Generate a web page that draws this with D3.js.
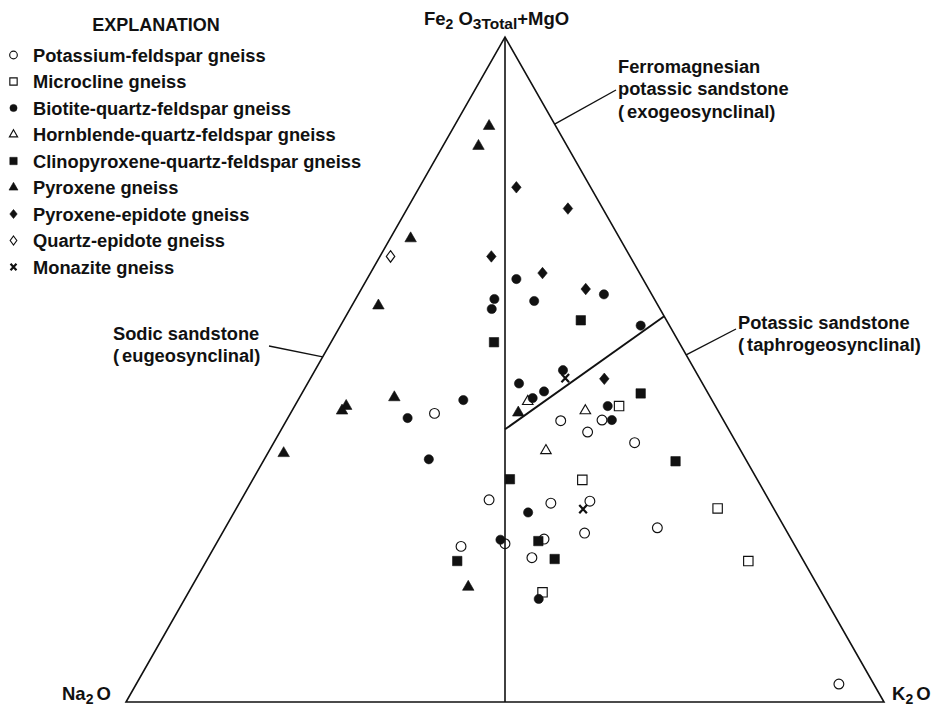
<!DOCTYPE html>
<html><head><meta charset="utf-8">
<script src="https://cdn.jsdelivr.net/npm/d3@7"></script>
<style>
body{margin:0;background:#fff;}
text{font-family:"Liberation Sans",Arial,Helvetica,sans-serif;font-weight:bold;fill:#111;}
</style></head><body>
<svg id="chart" width="937" height="708"></svg>
<script>
// Each point: [Na2O, K2O, Fe2O3Total+MgO] in percent
const potassiumFeldspar = [[37.6,19.0,43.4],[21.5,36.2,42.3],[16.0,41.6,42.4],[18.8,40.6,40.6],[13.4,47.6,39.0],
  [36.9,32.7,30.4],[29.0,41.1,29.9],[23.7,46.1,30.2],[16.8,57.0,26.2],[26.8,47.8,25.4],[32.6,42.9,24.5],
  [38.1,38.1,23.8],[44.1,32.5,23.4],[35.6,42.7,21.7],[4.6,92.7,2.7]];
const microcline = [[12.7,42.8,44.5],[23.1,43.5,33.4],[7.4,63.5,29.1],[7.3,71.5,21.2],[36.8,46.7,16.5]];
const biotiteQF = [[16.7,19.7,63.6],[6.3,32.4,61.3],[21.1,18.3,60.6],[22.2,18.7,59.1],[16.0,23.7,60.3],
  [3.8,39.6,56.6],[24.2,27.9,47.9],[17.4,32.7,49.9],[21.5,31.8,46.7],[23.5,30.8,45.7],[14.2,41.3,44.5],
  [14.7,42.9,42.4],[32.8,21.8,45.4],[41.5,15.8,42.7],[41.8,21.7,36.5],[32.7,38.8,28.5],[38.4,37.2,24.4],
  [37.8,46.7,15.5]];
const hornblendeQF = [[24.4,30.4,45.2],[17.5,38.7,43.8],[25.7,36.5,37.8]];
const clinopyroxeneQF = [[11.3,31.3,57.4],[24.4,21.5,54.1],[8.9,44.7,46.4],[9.4,54.4,36.2],[32.6,33.9,33.5],
  [33.5,42.3,24.2],[45.7,33.1,21.2],[32.7,45.8,21.5]];
const pyroxene = [[8.8,4.6,86.6],[11.7,4.7,83.6],[27.6,2.7,69.7],[36.9,3.5,59.6],[41.7,12.5,45.8],
  [48.7,6.8,44.5],[49.6,6.6,43.8],[60.5,2.1,37.4],[26.5,30.0,43.5],[46.2,36.5,17.3]];
const pyroxeneEpidote = [[9.8,12.8,77.4],[4.6,21.2,74.2],[18.3,14.7,67.0],[12.8,22.7,64.5],[8.3,29.6,62.1],[12.6,38.8,48.6]];
const quartzEpidote = [[31.6,1.4,67.0]];
const monazite = [[17.7,33.6,48.7],[25.2,45.8,29.0]];

const seriesNames = ["Potassium-feldspar gneiss","Microcline gneiss","Biotite-quartz-feldspar gneiss",
  "Hornblende-quartz-feldspar gneiss","Clinopyroxene-quartz-feldspar gneiss","Pyroxene gneiss",
  "Pyroxene-epidote gneiss","Quartz-epidote gneiss","Monazite gneiss"];
const seriesData = [potassiumFeldspar,microcline,biotiteQF,hornblendeQF,clinopyroxeneQF,pyroxene,pyroxeneEpidote,quartzEpidote,monazite];

// field boundary (Na2O, K2O, FeMg)
const boundaryLine = [[29.5,29.5,41.0],[0,42.0,58.0]];

const ink = "#111";
const svg = d3.select("#chart");
const x = d3.scaleLinear().domain([0,100]).range([126,884]);
const y = d3.scaleLinear().domain([0,100]).range([702,37]);
const px = d => x(d[1] + d[2]/2), py = d => y(d[2]);
const line = d3.line().x(px).y(py);

// triangle
svg.append("path").attr("d", line([[100,0,0],[0,100,0],[0,0,100]]) + "Z")
  .attr("fill","none").attr("stroke",ink).attr("stroke-width",1.6).attr("stroke-linejoin","miter");
svg.append("path").attr("d", line([[50,50,0],[0,0,100]])).attr("stroke",ink).attr("stroke-width",1.6);
svg.append("path").attr("d", line(boundaryLine)).attr("stroke",ink).attr("stroke-width",1.9);

// symbols
const diamond = (w,h) => ({draw(c){c.moveTo(0,-h/2);c.lineTo(w/2,0);c.lineTo(0,h/2);c.lineTo(-w/2,0);c.closePath();}});
const cross = s => ({draw(c){c.moveTo(-s,-s*1.1);c.lineTo(s,s*1.1);c.moveTo(s,-s*1.1);c.lineTo(-s,s*1.1);}});
function symbolSpec(i, k){ // k = scale
  switch(i){
    case 0: return {type:d3.symbolCircle, size:Math.PI*Math.pow(4.9*k,2), filled:false};
    case 1: return {type:d3.symbolSquare, size:Math.pow(9.4*k,2), filled:false};
    case 2: return {type:d3.symbolCircle, size:Math.PI*Math.pow(4.6*k,2), filled:true};
    case 3: return {type:d3.symbolTriangle, size:0.433*Math.pow(10.5*k,2), filled:false};
    case 4: return {type:d3.symbolSquare, size:Math.pow(9.4*k,2), filled:true};
    case 5: return {type:d3.symbolTriangle, size:0.433*Math.pow(11.5*k,2), filled:true};
    case 6: return {type:diamond(9.5*k,11.5*k), size:1, filled:true};
    case 7: return {type:diamond(8.5*k,11.5*k), size:1, filled:false};
    case 8: return {type:cross(3.8*k), size:1, filled:false, cross:true};
  }
}
function drawSym(g, spec){
  g.attr("d", d3.symbol().type(spec.type).size(spec.size)())
   .attr("fill", spec.filled ? ink : "none")
   .attr("stroke", ink)
   .attr("stroke-width", spec.cross ? 2.2 : (spec.filled ? 0.6 : 1.15));
}

const pts = svg.append("g");
seriesData.forEach((data,i)=>{
  const spec = symbolSpec(i,1);
  pts.selectAll(null).data(data).enter().append("path")
    .attr("transform", d=>`translate(${px(d)},${py(d)})`)
    .call(drawSym, spec);
});

// legend
svg.append("text").attr("x",156).attr("y",31).attr("text-anchor","middle")
  .style("font-size","18px").text("EXPLANATION");
const leg = svg.append("g");
seriesNames.forEach((n,i)=>{
  const cy = 55 + i*26.5;
  const spec = symbolSpec(i,0.78);
  leg.append("path").attr("transform",`translate(13.5,${cy})`).call(drawSym, spec);
  leg.append("text").attr("x",33).attr("y",cy+6.5).style("font-size","18.3px").text(n);
});

// vertex labels
const apexLabel = svg.append("text").attr("x",424).attr("y",25).style("font-size","18.5px");
apexLabel.append("tspan").text("Fe");
apexLabel.append("tspan").attr("dy",4).style("font-size","14px").text("2");
apexLabel.append("tspan").attr("dx",5).attr("dy",-4).text("O");
apexLabel.append("tspan").attr("dy",4).style("font-size","15.5px").text("3Total");
apexLabel.append("tspan").attr("dy",-4).text("+MgO");

function oxide(xp, a, b){
  const t = svg.append("text").attr("x",xp).attr("y",700).style("font-size","18.5px");
  t.append("tspan").text(a);
  t.append("tspan").attr("dy",4).style("font-size","14px").text("2");
  t.append("tspan").attr("dx",3).attr("dy",-4).text(b);
}
oxide(62,"Na","O");
oxide(892,"K","O");

// field labels with leaders
function label(lines, xp, y0){
  const t = svg.append("text").attr("x",xp).attr("y",y0).style("font-size","18.3px");
  lines.forEach((l,i)=>{
    const ts = t.append("tspan").attr("x",xp).attr("dy", i===0?0:22.3);
    if(l[0]==="("){ ts.text("("); t.append("tspan").attr("dx",3).text(l.slice(1)); }
    else ts.text(l);
  });
}
function leader(edgePt, x2, y2){
  svg.append("line").attr("x1",px(edgePt)).attr("y1",py(edgePt)).attr("x2",x2).attr("y2",y2)
    .attr("stroke",ink).attr("stroke-width",1.4);
}
label(["Ferromagnesian","potassic sandstone","(exogeosynclinal)"], 618, 73);
leader([0,13.1,86.9], 616, 90);
label(["Potassic sandstone","(taphrogeosynclinal)"], 738, 328.5);
leader([0,47.8,52.2], 736, 329);
label(["Sodic sandstone","(eugeosynclinal)"], 113, 340);
leader([48.1,0,51.9], 269, 346);
</script>
</body></html>
